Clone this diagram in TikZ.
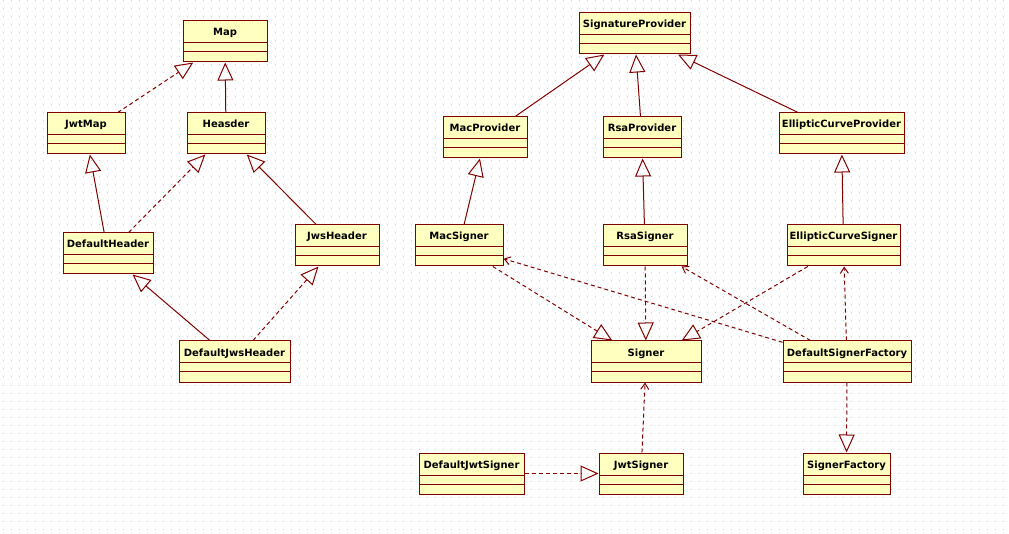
\documentclass[tikz,border=0pt]{standalone}
\usepackage{fontspec}
\setmainfont{DejaVu Sans}
\usetikzlibrary{arrows.meta}
\definecolor{umlred}{RGB}{128,0,0}
\definecolor{umlfill}{RGB}{255,255,192}
\definecolor{griddot}{RGB}{205,205,205}

\begin{document}
\begin{tikzpicture}[x=1pt, y=-1pt,
		cls/.style={draw=umlred, fill=umlfill, line width=1pt, minimum width=#1, inner xsep=2pt, inner ysep=0pt,
			text height=15pt, text depth=26pt, font=\bfseries\fontsize{10}{12}\selectfont,
			path picture={\draw[umlred, line width=1pt]
				([yshift=-22pt]path picture bounding box.north west) -- ([yshift=-22pt]path picture bounding box.north east)
				([yshift=-31pt]path picture bounding box.north west) -- ([yshift=-31pt]path picture bounding box.north east);}},
		gen/.style={draw=umlred, line width=1pt, -{Triangle[open, length=18pt, width=16pt]}},
		real/.style={gen, dash pattern=on 4pt off 3pt},
		dep/.style={draw=umlred, line width=1pt, dash pattern=on 4pt off 3pt, -{Straight Barb[length=6pt, width=8pt]}}]
	\useasboundingbox[fill=white] (0,0) rectangle (1009,534);
	\foreach \y in {1,9,...,529}
		\draw[griddot, line width=1pt, dash pattern=on 1pt off 7pt] (2.5,\y) -- (1009,\y);
	
	\node (map) [cls=84] at (225,41.5) {Map};
	\node (jwtmap) [cls=78] at (86,133.5) {JwtMap};
	\node (heasder) [cls=78] at (226,133.5) {Heasder};
	\node (defheader) [cls=90] at (108,253.5) {DefaultHeader};
	\node (jwsheader) [cls=84] at (337,245.5) {JwsHeader};
	\node (defjwsheader) [cls=111] at (234.5,361.5) {DefaultJwsHeader};
	
	\node (sigprov) [cls=111] at (634.5,33.5) {SignatureProvider};
	\node (macprov) [cls=84] at (485,137.5) {MacProvider};
	\node (rsaprov) [cls=78] at (642,137.5) {RsaProvider};
	\node (ecprov) [cls=125] at (841.5,133.5) {EllipticCurveProvider};
	\node (macsigner) [cls=88] at (459,245.5) {MacSigner};
	\node (rsasigner) [cls=84] at (645,245.5) {RsaSigner};
	\node (ecsigner) [cls=113] at (843.5,245.5) {EllipticCurveSigner};
	\node (signer) [cls=110] at (646,361.5) {Signer};
	\node (defsigfact) [cls=128] at (847,361.5) {DefaultSignerFactory};
	\node (defjwtsigner) [cls=105] at (471.5,473.5) {DefaultJwtSigner};
	\node (jwtsigner) [cls=84] at (641,473.5) {JwtSigner};
	\node (sigfact) [cls=87] at (846.5,473.5) {SignerFactory};
	
	\draw[real] (jwtmap) -- (map);
	\draw[gen] (heasder) -- (map);
	\draw[gen] (defheader) -- (jwtmap);
	\draw[real] (defheader) -- (heasder);
	\draw[gen] (jwsheader) -- (heasder);
	\draw[gen] (defjwsheader) -- (defheader);
	\draw[real] (defjwsheader) -- (jwsheader);
	
	\draw[gen] (macprov) -- (sigprov);
	\draw[gen] (rsaprov) -- (sigprov);
	\draw[gen] (ecprov) -- (sigprov);
	\draw[gen] (macsigner) -- (macprov);
	\draw[gen] (rsasigner) -- (rsaprov);
	\draw[gen] (ecsigner) -- (ecprov);
	\draw[real] (macsigner) -- (signer);
	\draw[real] (rsasigner) -- (signer);
	\draw[real] (ecsigner) -- (signer);
	\draw[dep] (defsigfact) -- (macsigner);
	\draw[dep] (defsigfact) -- (rsasigner);
	\draw[dep] (defsigfact) -- (ecsigner);
	\draw[real] (defsigfact) -- (sigfact);
	\draw[dep] (jwtsigner) -- (signer);
	\draw[real] (defjwtsigner) -- (jwtsigner);
\end{tikzpicture}
\end{document}
